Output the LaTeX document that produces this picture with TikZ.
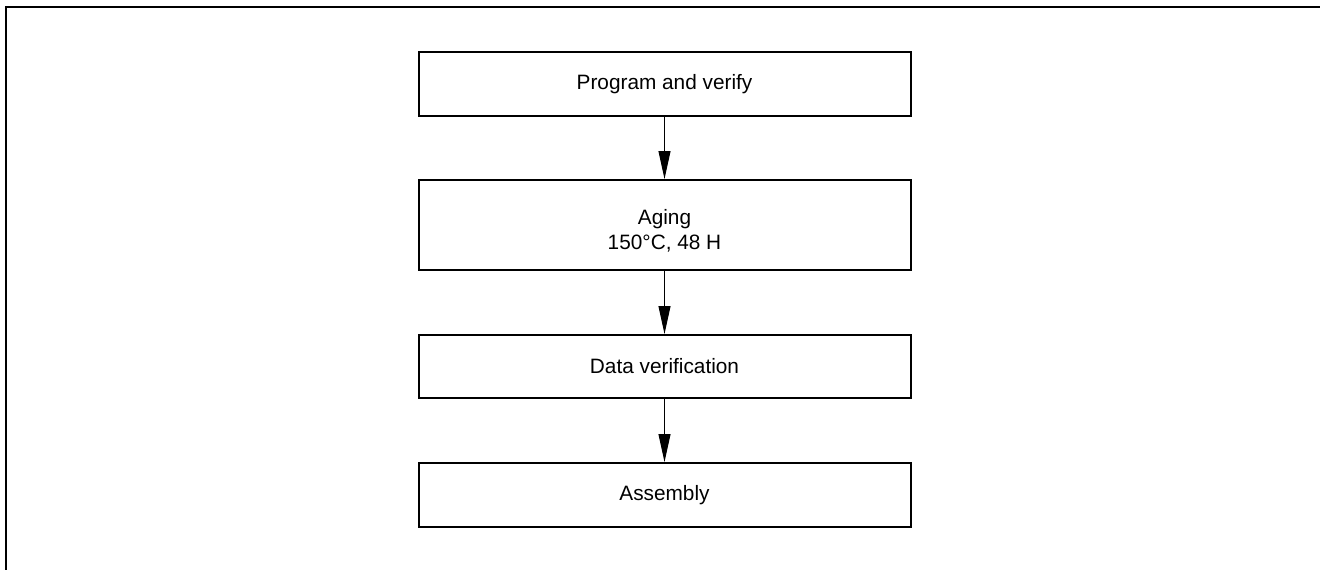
\documentclass[tikz,border=0pt]{standalone}
\usepackage{fontspec}
\setmainfont{Liberation Sans}
\usetikzlibrary{arrows.meta}
\begin{document}
\begin{tikzpicture}[x=1pt,y=-1pt,
  stepbox/.style={draw=black, line width=2pt, minimum width=492pt, inner sep=0pt,
    align=center, font=\fontsize{20.8}{25}\selectfont},
  flow/.style={line width=1pt, -{Triangle[length=28pt,width=12pt]}},
  frame/.style={line width=2pt}]
\useasboundingbox (0,0) rectangle (1320,570);
\draw[frame] (5.5,570) -- (5.5,6.5) -- (1320,6.5);
\node[stepbox, minimum height=64pt] (b1) at (664.5,84) {Program and verify};
\node[stepbox, minimum height=90pt] (b2) at (664.5,225) {\rule{0pt}{27pt}Aging\\150°C, 48 H};
\node[stepbox, minimum height=63pt] (b3) at (664.5,366.5) {Data verification};
\node[stepbox, minimum height=64pt] (b4) at (664.5,495) {Assembly};
\draw[flow] (b1) -- (b2);
\draw[flow] (b2) -- (b3);
\draw[flow] (b3) -- (b4);
\end{tikzpicture}
\end{document}
